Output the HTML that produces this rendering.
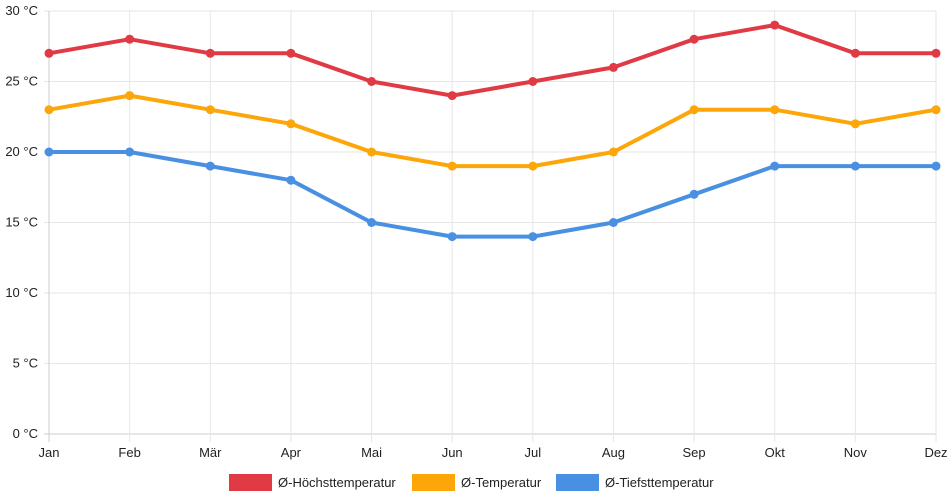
<!DOCTYPE html>
<html><head><meta charset="utf-8"><style>
body{margin:0;background:#fff}
svg{display:block;font-family:"Liberation Sans",sans-serif}
</style></head><body>
<svg id="c" width="952" height="500"></svg>
<script>
const months=["Jan","Feb","Mär","Apr","Mai","Jun","Jul","Aug","Sep","Okt","Nov","Dez"];
const maxTemp=[27,28,27,27,25,24,25,26,28,29,27,27];
const avgTemp=[23,24,23,22,20,19,19,20,23,23,22,23];
const minTemp=[20,20,19,18,15,14,14,15,17,19,19,19];
const yTicks=[0,5,10,15,20,25,30];
const seriesNames=["Ø-Höchsttemperatur","Ø-Temperatur","Ø-Tiefsttemperatur"];
const colors=["#e03a45","#fca60a","#4a90e2"];
const svg=document.getElementById('c');const NS="http://www.w3.org/2000/svg";
const x0=49,x1=936,y0=434,y1=11;
const X=i=>x0+i*(x1-x0)/(months.length-1);
const Y=v=>y0-(v-0)/(30-0)*(y0-y1);
function el(t,a,p){const e=document.createElementNS(NS,t);for(const k in a)e.setAttribute(k,a[k]);(p||svg).appendChild(e);return e;}
yTicks.forEach(v=>{
 const l=el('line',{x1:x0-5,x2:x1,y1:Y(v),y2:Y(v),stroke:v===0?'#ccc':'#e6e6e6','stroke-width':1});
 
 
 const t=el('text',{x:x0-11,y:Y(v)+4,'text-anchor':'end','font-size':13,fill:'#222'});
 t.textContent=v+' °C';
 
 
});
months.forEach((m,i)=>{
 const l=el('line',{x1:X(i),x2:X(i),y1:y1,y2:y0+8,stroke:i===0?'#ccc':'#e6e6e6','stroke-width':1});
 
 
 const t=el('text',{x:X(i),y:y0+23,'text-anchor':'middle','font-size':13,fill:'#222'});
 t.textContent=m;
 
 
});
[maxTemp,avgTemp,minTemp].forEach((s,k)=>{
 const p=el('polyline',{points:s.map((v,i)=>X(i)+','+Y(v)).join(' '),fill:'none',stroke:colors[k],'stroke-width':4,'stroke-linejoin':'round'});
 
 
 s.forEach((v,i)=>{
  const c=el('circle',{cx:X(i),cy:Y(v),r:4.5,fill:colors[k]});
  
  
 });
});
const legX=[229,412,556];
seriesNames.forEach((n,k)=>{
 const g=el('g',{});
 
 
 el('rect',{x:legX[k],y:474,width:43,height:17,fill:colors[k]},g);
 const t=el('text',{x:legX[k]+49,y:487,'font-size':13,fill:'#222'},g);
 t.textContent=n;
});
</script>
</body></html>
